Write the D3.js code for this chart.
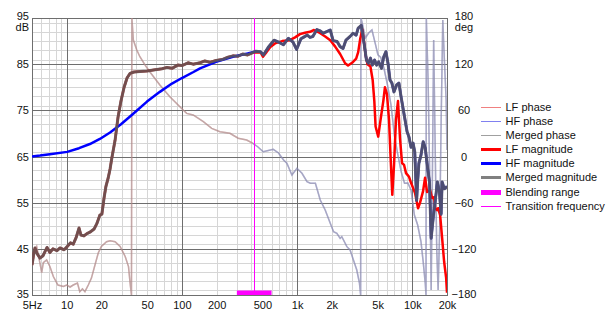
<!DOCTYPE html>
<html><head><meta charset="utf-8">
<script src="https://cdn.jsdelivr.net/npm/d3@7"></script>
<style>
body{margin:0;background:#fff}
svg{display:block}
text{font-family:"Liberation Sans",Arial,sans-serif;font-size:11px;fill:#111}
</style>
</head><body><svg id="c" width="614" height="313"></svg>
<script>
// ---- data ----
const xTickValues = [5,10,20,50,100,200,500,1000,2000,5000,10000,20000];
const xTickLabels = ["5Hz","10","20","50","100","200","500","1k","2k","5k","10k","20k"];
const dbTicks = [95,85,75,65,55,45,35];
const phaseTicks = [180,120,60,0,-60,-120,-180];
const transitionFreq = 420;
const blendingRange = [300, 600];

const lfMagnitude = [[5,41.5],[5.13,43.5],[5.31,45.2],[5.52,44],[5.87,43],[6.23,43.5],[6.75,45.3],[7.15,44.2],[7.6,45],[8.24,44.6],[8.75,45.2],[9.5,44.8],[10.1,45.5],[10.8,46.3],[11.4,46],[12.1,47.5],[12.8,49.5],[13.3,48],[14.1,47.8],[15,48.3],[15.9,48.6],[17.3,49.3],[18.3,50.5],[19.4,52.3],[20.2,52.5],[21.1,56],[21.9,58.5],[22.9,60.3],[23.8,62.3],[24.7,64.8],[26.3,68.5],[27.9,73.5],[29.6,77],[31.5,80],[33.4,82],[35.5,83],[38.4,83.3],[43.2,83.4],[49.8,83.5],[58.4,83.8],[67.2,84],[74.2,84.3],[82,84.1],[92.2,84.8],[100,84.7],[113,85.3],[125,85],[143.7,85.3],[158,85.7],[175,85.4],[198,85.8],[223,86],[251,86.5],[277,86.8],[305,86.7],[337,87.2],[372,87],[413,87.5],
[440,87.6],[484,87.5],[505,86.6],[538,87.5],[585,88.7],[643,89.5],[742,90],[866,90.2],[960,90.8],[1059,91.5],[1170,91.8],[1294,92],[1403,92.4],[1588,91.7],[1753,91],[1940,90.2],[2141,88.8],[2363,87.2],[2609,85.2],[2768,84.7],[3000,85.3],[3255,86.2],[3390,87.6],[3531,90.5],[3680,92.5],[3800,90],[3930,87],[4080,85],[4330,84.5],[4530,81.5],[4680,77],[4800,71.5],[5060,69.3],[5325,73.3],[5600,77],[5788,80],[6024,78.5],[6274,73],[6527,63],[6700,56.7],[6932,63],[7215,73],[7510,77],[7817,69],[8137,63.6],[8470,63.2],[8816,61.4],[9364,60.6],[9747,59.3],[10146,58.2],[10560,57.1],[10774,56],[11215,53.8],[11673,55],[12398,57.5],[12905,60.4],[13433,57.3],[14268,57.7],[14851,56],[15458,56.2],[15771,53.8],[16417,53.4],[16749,53.8],[17433,52.3],[18146,47.3],[18887,42.2],[19660,38.7],[20000,35.5]];

const hfMagnitude = [[5,65],[5.87,65.2],[7.15,65.5],[10.1,66],[12.8,66.8],[15.9,67.7],[19.4,68.8],[23.8,70.2],[29.6,72],[37.6,74.2],[49.8,76.9],[64.4,79],[82,80.8],[100,82],[126,83.3],[143.7,84.1],[198,85.5],[277,86.6],[372,87.3],[413,87.6],
[440,87.8],[480,87.7],[510,87],[560,88.6],[630,90.2],[700,89.7],[760,89.2],[840,90.6],[920,89.8],[990,88.2],[1080,90.5],[1133,90.8],[1225,91.3],[1294,90.8],[1370,91],[1484,92.5],[1588,92.2],[1685,91.7],[1786,92],[1940,92.4],[2053,90.1],[2225,89.9],[2363,88.8],[2503,88.4],[2654,90.2],[2883,91],[3055,91.7],[3255,91.3],[3390,92.8],[3604,93.4],[3700,91.7],[3850,88.8],[3997,85.9],[4150,85.2],[4333,86.3],[4500,84.8],[4700,85.9],[4900,84.8],[5110,85.5],[5400,84.1],[5650,86.6],[5900,87.7],[6150,85.2],[6400,81.6],[6650,80.9],[6930,79],[7300,80.5],[7650,80.9],[8004,77.8],[8300,75.5],[8650,72.9],[9000,70.4],[9360,69.2],[9750,67],[10150,67.9],[10500,66],[10900,55.5],[11150,60],[11400,63.5],[11890,65.3],[12425,68.2],[12952,66.8],[13600,62.4],[14088,59.5],[14575,47.3],[15265,52.3],[16088,57],[16500,59.5],[17160,57.4],[17796,52.5],[18146,59.5],[18960,58],[20000,58.5]];

const lfPhase = [[5,-141],[5.13,-137],[5.31,-121.5],[5.49,-117],[5.75,-132],[6.07,-151],[6.27,-138],[6.7,-134.5],[7.15,-143],[7.66,-156],[8.4,-167],[9.36,-169],[10,-167],[10.7,-169.6],[11.4,-167],[12.4,-164.4],[13,-175.7],[13.7,-172],[14.4,-175.7],[15.4,-167],[16.4,-158],[17.6,-141],[18.8,-125.4],[20,-117],[22.2,-110.7],[23.8,-109.4],[26.3,-110.7],[29.1,-117],[32.2,-130],[34.4,-143],[35.5,-164.4],[36.5,-180],[36.8,180],[37.9,151.4],[40.6,138.4],[43.2,129.7],[47.8,119],[52.6,110.2],[64.4,93],[78.6,77.7],[102.6,60.4],[110,56],[125.2,54],[153.5,45.2],[181.5,36.6],[214,32.2],[261,30.2],[308,23.7],[365,21.4],[413,17.2]];

const hfPhase = [[413,17.2],[455,12.7],[508,6.2],[562,7.8],[621,9.4],[690,4.6],[763,-4.5],[815,-8.8],[901,-24],[997,-15.3],[1102,-21.8],[1219,-32.7],[1302,-34.8],[1441,-34.8],[1588,-56.5],[1753,-69.5],[1940,-86.8],[2073,-97.7],[2214,-99.8],[2363,-106.3],[2443,-104.2],[2703,-117.2],[2883,-121.5],[3083,-134.5],[3296,-147.5],[3480,-164.8],[3560,-180],[3580,180],[3654,175],[3908,154],[4176,160.5],[4464,164.4],[4800,145],[5030,132],[5325,128.7],[5694,113.7],[6087,93],[6527,67],[6760,47.4],[6998,26.7],[7490,2],[8004,-19.7],[8555,-34.8],[9144,-34.4],[9747,-43.5],[10418,-76],[11128,-89],[11890,-110.7],[12425,-136.7],[12952,-164.8],[13145,-180],[13230,180],[13704,99.4],[14131,-17.5],[14575,-173.5],[14867,-56.5],[15323,151.4],[15800,8.5],[16300,-121.5],[16749,-173.5],[17270,-95.5],[17796,47.4],[18380,177.4],[18980,125.4],[19660,73.4],[20000,8.5]];

const legendNames = ["LF phase","HF phase","Merged phase","LF magnitude","HF magnitude","Merged magnitude","Blending range","Transition frequency"];

// ---- layout ----
const L = 32, R = 447, T = 18, B = 295;
const svg = d3.select("#c");
const x = d3.scaleLog().domain([5,20000]).range([L,R]);
const yDb = d3.scaleLinear().domain([35,95]).range([B,T]);
const yPh = d3.scaleLinear().domain([-180,180]).range([B,T]);

svg.append("defs").append("clipPath").attr("id","clip")
  .append("rect").attr("x",L).attr("y",T).attr("width",R-L).attr("height",B-T);

// grid
const grid = svg.append("g");
grid.selectAll(".vmin").data(x.ticks()).join("line")
  .attr("x1",d=>Math.round(x(d))+0.5).attr("x2",d=>Math.round(x(d))+0.5)
  .attr("y1",T).attr("y2",B).attr("stroke","#d6d6d6");
grid.selectAll(".hmin").data(yDb.ticks(30)).join("line")
  .attr("y1",d=>Math.round(yDb(d))+0.5).attr("y2",d=>Math.round(yDb(d))+0.5)
  .attr("x1",L).attr("x2",R).attr("stroke","#d6d6d6");
grid.selectAll(".vmaj").data([10,100,1000,10000]).join("line")
  .attr("x1",d=>Math.round(x(d))+0.5).attr("x2",d=>Math.round(x(d))+0.5)
  .attr("y1",T).attr("y2",B).attr("stroke","#6e6e6e");
grid.selectAll(".hmaj").data(dbTicks).join("line")
  .attr("y1",d=>Math.round(yDb(d))+0.5).attr("y2",d=>Math.round(yDb(d))+0.5)
  .attr("x1",L).attr("x2",R).attr("stroke","#6e6e6e");
grid.append("rect").attr("x",L+0.5).attr("y",T+0.5).attr("width",R-L).attr("height",B-T)
  .attr("fill","none").attr("stroke","#6e6e6e");

// axes
const axB = svg.append("g").attr("transform",`translate(0,${B})`)
  .call(d3.axisBottom(x).tickValues(xTickValues).tickFormat((d,i)=>xTickLabels[i]).tickSize(0).tickPadding(6));
const axL = svg.append("g").attr("transform",`translate(${L},0)`)
  .call(d3.axisLeft(yDb).tickValues(dbTicks).tickFormat(d3.format("d")).tickSize(0).tickPadding(3));
const axR = svg.append("g").attr("transform",`translate(${R},0)`)
  .call(d3.axisRight(yPh).tickValues(phaseTicks).tickFormat(d3.format("d")).tickSize(0).tickPadding(17));
[axB,axL,axR].forEach(a=>{a.select(".domain").remove(); a.selectAll("text").attr("font-family",null).attr("font-size",null).attr("fill","#111");});
axR.selectAll("text").attr("text-anchor","middle");
axL.selectAll(".tick").filter(d=>d===95).select("text").attr("dy","0.1em");
axR.selectAll(".tick").filter(d=>d===180).select("text").attr("dy","0.1em");
axL.selectAll(".tick").filter(d=>d===35).select("text").attr("dy","0.2em");
axR.selectAll(".tick").filter(d=>d===-180).select("text").attr("dy","0.2em");
svg.append("text").attr("x",29).attr("y",30.5).attr("text-anchor","end").text("dB");
svg.append("text").attr("x",R+17).attr("y",30.5).attr("text-anchor","middle").text("deg");

// curves
const plot = svg.append("g").attr("clip-path","url(#clip)");
const lineDb = d3.line().x(d=>x(d[0])).y(d=>yDb(d[1]));
const linePh = d3.line().x(d=>x(d[0])).y(d=>yPh(d[1]));
const mergedMagnitude = lfMagnitude.filter(d=>d[0]<=transitionFreq).concat(hfMagnitude.filter(d=>d[0]>transitionFreq));
const mergedPhase = lfPhase.concat(hfPhase.slice(1));

plot.append("path").datum(lfPhase).attr("d",linePh).attr("fill","none").attr("stroke","#f08080").attr("stroke-opacity",0.5).attr("stroke-width",1.5);
plot.append("path").datum(hfPhase).attr("d",linePh).attr("fill","none").attr("stroke","#8080f0").attr("stroke-opacity",0.5).attr("stroke-width",1.5);
plot.append("path").datum(mergedPhase).attr("d",linePh).attr("fill","none").attr("stroke","#909090").attr("stroke-opacity",0.5).attr("stroke-width",1.5);

const tx = Math.round(x(transitionFreq))+0.5;
plot.append("line").attr("x1",tx).attr("x2",tx).attr("y1",T).attr("y2",B).attr("stroke","#ff00ff").attr("stroke-width",1);
plot.append("rect").attr("x",x(blendingRange[0])).attr("width",x(blendingRange[1])-x(blendingRange[0])).attr("y",B-4.5).attr("height",4.5).attr("fill","#ff00ff");

plot.append("path").datum(lfMagnitude).attr("d",lineDb).attr("fill","none").attr("stroke","#ff0000").attr("stroke-width",2.5).attr("stroke-linejoin","round");
plot.append("path").datum(hfMagnitude).attr("d",lineDb).attr("fill","none").attr("stroke","#0000ff").attr("stroke-width",2.5).attr("stroke-linejoin","round");
plot.append("path").datum(mergedMagnitude).attr("d",lineDb).attr("fill","none").attr("stroke","#5a5a5a").attr("stroke-opacity",0.85).attr("stroke-width",3).attr("stroke-linejoin","round");

// legend
const legendStyles = [
  {c:"#f08080",w:1},{c:"#8080f0",w:1},{c:"#a0a0a0",w:1},
  {c:"#ff0000",w:3},{c:"#0000ff",w:3},{c:"#808080",w:3},
  {c:"#ff00ff",w:5},{c:"#ff00ff",w:1}];
const lg = svg.append("g");
const rows = lg.selectAll("g").data(legendNames).join("g")
  .attr("transform",(d,i)=>`translate(0,${Math.round(106.7+i*14.15)})`);
rows.append("line").attr("x1",481).attr("x2",501).attr("y1",0.5).attr("y2",0.5)
  .attr("stroke",(d,i)=>legendStyles[i].c).attr("stroke-width",(d,i)=>legendStyles[i].w);
rows.append("text").attr("x",505.5).attr("y",0).attr("dy","0.36em").text(d=>d);
</script></body></html>
